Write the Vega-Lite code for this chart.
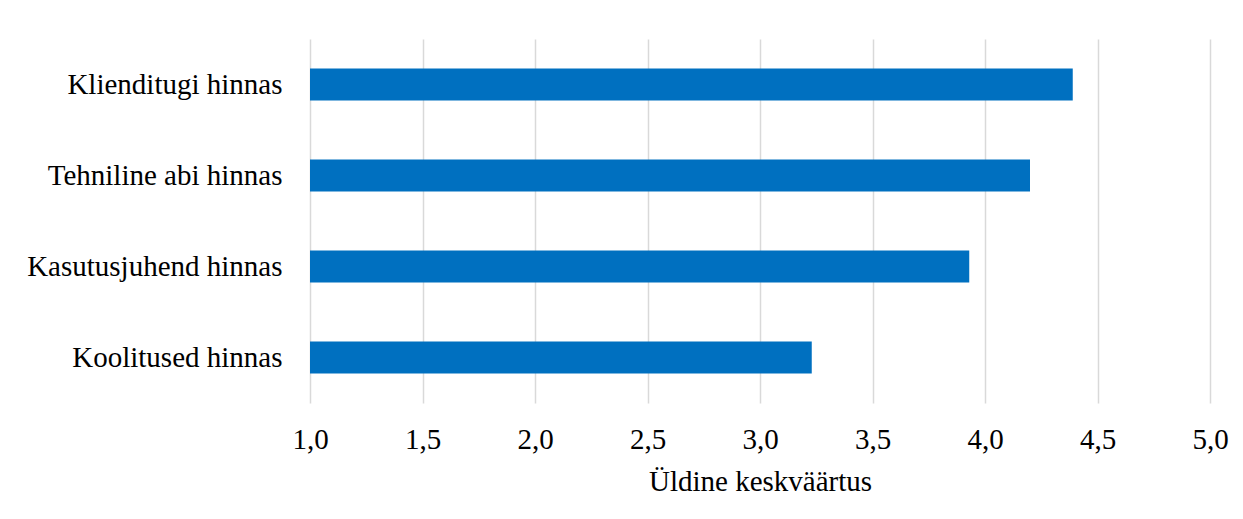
{
  "$schema": "https://vega.github.io/schema/vega-lite/v6.json",
  "width": 900,
  "height": 364,
  "autosize": {"type": "none"},
  "padding": {"left": 310, "top": 39, "right": 33, "bottom": 116},
  "background": "white",
  "config": {
    "view": {"stroke": null},
    "font": "Times New Roman, Liberation Serif, serif"
  },
  "data": {
    "values": [
      {"kategooria": "Klienditugi hinnas", "keskvaartus": 4.39},
      {"kategooria": "Tehniline abi hinnas", "keskvaartus": 4.20},
      {"kategooria": "Kasutusjuhend hinnas", "keskvaartus": 3.93},
      {"kategooria": "Koolitused hinnas", "keskvaartus": 3.23}
    ]
  },
  "mark": {"type": "bar", "color": "#0070C0"},
  "encoding": {
    "y": {
      "field": "kategooria",
      "type": "nominal",
      "sort": null,
      "scale": {"paddingInner": 0.648, "paddingOuter": 0.324},
      "axis": {
        "title": null,
        "domain": false,
        "ticks": false,
        "labelFont": "Times New Roman, Liberation Serif, serif",
        "labelFontSize": 29,
        "labelColor": "#000000",
        "labelPadding": 28,
        "labelLimit": 400
      }
    },
    "x": {
      "field": "keskvaartus",
      "type": "quantitative",
      "scale": {"domain": [1, 5], "zero": false, "nice": false},
      "axis": {
        "title": "Üldine keskväärtus",
        "values": [1, 1.5, 2, 2.5, 3, 3.5, 4, 4.5, 5],
        "labelExpr": "replace(format(datum.value, '.1f'), '.', ',')",
        "labelFlush": false,
        "labelOverlap": false,
        "domain": false,
        "ticks": false,
        "grid": true,
        "gridColor": "#d9d9d9",
        "gridWidth": 1.5,
        "labelFont": "Times New Roman, Liberation Serif, serif",
        "labelFontSize": 29,
        "labelColor": "#000000",
        "labelPadding": 22,
        "titleFont": "Times New Roman, Liberation Serif, serif",
        "titleFontSize": 29,
        "titleFontWeight": "normal",
        "titleColor": "#000000",
        "titleBaseline": "alphabetic",
        "titleY": 87
      }
    },
    "x2": {"datum": 1}
  }
}
